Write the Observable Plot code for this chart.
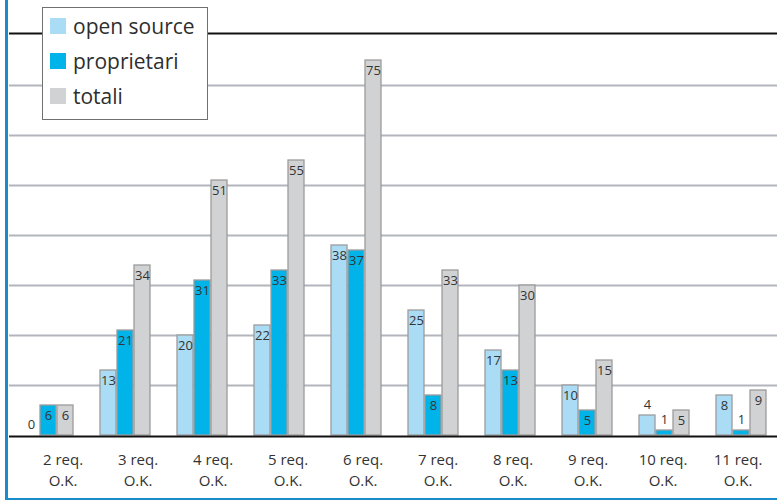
<!DOCTYPE html>
<html>
<head>
<meta charset="utf-8">
<script src="https://cdn.jsdelivr.net/npm/d3@7"></script>
<script src="https://cdn.jsdelivr.net/npm/@observablehq/plot@0.6"></script>
<style>
  html, body { margin: 0; padding: 0; background: #fff; }
  #wrap { position: relative; width: 777px; height: 501px; overflow: hidden; background: #fff; font-family: "Open Sans", sans-serif; }
  #wrap svg { position: absolute; left: 0; }
  .legend-box { position: absolute; left: 42px; top: 6.5px; width: 166px; height: 113px; box-sizing: border-box; border: 1.5px solid #707070; background: #fff; }
  .sw { position: absolute; left: 49.5px; width: 16.5px; height: 16px; }
  .lt { position: absolute; left: 73px; font-size: 21px; line-height: 21px; color: #2e2e2e; white-space: nowrap; }
  .edge { position: absolute; background: #1a8ccc; }
</style>
</head>
<body>
<div id="wrap"></div>
<script>
// ---- data ----
const categories = ["2 req.", "3 req.", "4 req.", "5 req.", "6 req.", "7 req.", "8 req.", "9 req.", "10 req.", "11 req."];
const tickLabels = ["2 req.\nO.K.", "3 req.\nO.K.", "4 req.\nO.K.", "5 req.\nO.K.", "6 req.\nO.K.", "7 req.\nO.K.", "8 req.\nO.K.", "9 req.\nO.K.", "10 req.\nO.K.", "11 req.\nO.K."];
const seriesNames = ["open source", "proprietari", "totali"];
const seriesColors = ["#aadcf5", "#00b3e9", "#d1d2d4"];
const openSource = [0, 13, 20, 22, 38, 25, 17, 10, 4, 8];
const proprietari = [6, 21, 31, 33, 37, 8, 13, 5, 1, 1];
const totali = [6, 34, 51, 55, 75, 33, 30, 15, 5, 9];
const gridValues = [10, 20, 30, 40, 50, 60, 70];
const topValue = [80];

// ---- table ----
const seriesValues = [openSource, proprietari, totali];
const rows = [];
categories.forEach((c, i) => {
  seriesNames.forEach((s, j) => rows.push({cat: c, series: s, value: seriesValues[j][i]}));
});
const barRows = rows.filter(d => d.value > 0);

const wrap = document.getElementById("wrap");

const chart = Plot.plot({
  width: 777,
  height: 440,
  marginTop: 0,
  marginBottom: 5,
  marginLeft: 0,
  marginRight: 0,
  style: {fontFamily: "Open Sans, sans-serif", background: "transparent", overflow: "visible"},
  fx: {domain: categories, range: [6.5, 781.5], paddingInner: 0, paddingOuter: 0, axis: null, label: null},
  x: {domain: seriesNames, paddingInner: 0.06, paddingOuter: 0.76, axis: null, label: null},
  y: {domain: [0, 87], axis: null, label: null},
  color: {domain: seriesNames, range: seriesColors},
  marks: [
    Plot.ruleY(gridValues, {stroke: "#b2b6bc", strokeWidth: 2}),
    Plot.ruleY(topValue, {stroke: "#111", strokeWidth: 2, dy: -2}),
    Plot.barY(barRows, {fx: "cat", x: "series", y: "value", fill: "series", stroke: "#9c9c9c", strokeWidth: 1.3}),
    Plot.ruleY([0], {stroke: "#111", strokeWidth: 2, dy: 1}),
    Plot.text(rows.filter(d => d.value >= 5), {fx: "cat", x: "series", y: "value", text: d => String(d.value), lineAnchor: "top", dy: 5, fontSize: 13, fill: "#333"}),
    Plot.text(rows.filter(d => d.value < 5), {fx: "cat", x: "series", y: "value", text: d => String(d.value), lineAnchor: "bottom", dy: -7, fontSize: 13, fill: "#333"})
  ]
});
chart.style.top = "0px";
wrap.appendChild(chart);

const labels = Plot.plot({
  width: 777,
  height: 58,
  marginTop: 10,
  marginBottom: 0,
  marginLeft: 0,
  marginRight: 0,
  style: {fontFamily: "Open Sans, sans-serif", background: "transparent"},
  x: {type: "band", domain: categories, range: [21.7, 778.7], padding: 0, axis: null, label: null},
  marks: [
    Plot.text(tickLabels, {x: (d, i) => categories[i], text: d => d, frameAnchor: "top", lineAnchor: "top", fontSize: 15, lineHeight: 1.4, fill: "#333"})
  ]
});
labels.style.top = "440px";
wrap.appendChild(labels);

// blue frame edges
const left = document.createElement("div");
left.className = "edge";
Object.assign(left.style, {left: "5px", top: "0px", width: "2.5px", height: "500px"});
wrap.appendChild(left);
const bottom = document.createElement("div");
bottom.className = "edge";
Object.assign(bottom.style, {left: "5px", top: "498px", width: "772px", height: "2px"});
wrap.appendChild(bottom);

// legend
const box = document.createElement("div");
box.className = "legend-box";
wrap.appendChild(box);
seriesNames.forEach((name, i) => {
  const sw = document.createElement("div");
  sw.className = "sw";
  sw.style.top = (18.3 + 34.9 * i) + "px";
  sw.style.background = seriesColors[i];
  wrap.appendChild(sw);
  const t = document.createElement("div");
  t.className = "lt";
  t.style.top = (16.3 + 34.9 * i) + "px";
  t.textContent = name;
  wrap.appendChild(t);
});
</script>
</body>
</html>
